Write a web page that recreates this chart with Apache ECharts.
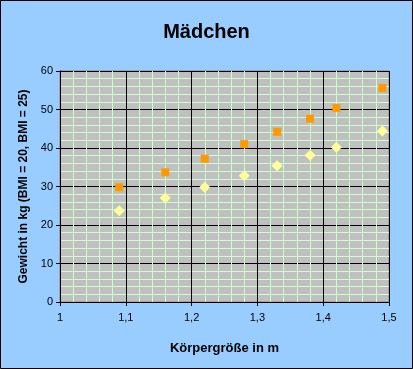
<!DOCTYPE html>
<html><head><meta charset="utf-8">
<script src="https://cdn.jsdelivr.net/npm/echarts@6/dist/echarts.min.js"></script>
<style>html,body{margin:0;padding:0;background:#99CCFF;}#c{width:413px;height:369px;}</style>
</head><body><div id="c"></div>
<script>
const heights = [1.09, 1.16, 1.22, 1.28, 1.33, 1.38, 1.42, 1.49];
const weightBMI25 = [29.8, 33.7, 37.2, 41.0, 44.2, 47.6, 50.4, 55.6];
const weightBMI20 = [23.7, 27.0, 29.8, 32.8, 35.4, 38.1, 40.2, 44.4];
const titleText = 'Mädchen';
const xName = 'Körpergröße in m';
const yName = 'Gewicht in kg (BMI = 20, BMI = 25)';

const chart = echarts.init(document.getElementById('c'), null, {renderer:'canvas'});
const fmt = v => String(+(+v).toFixed(1)).replace('.', ',');
const font = 'Arial, "Liberation Sans", sans-serif';
chart.setOption({
  backgroundColor: '#99CCFF',
  animation: false,
  title: {text: titleText, left: 'center', top: 17,
    textStyle: {fontFamily: font, fontSize: 20, fontWeight: 'bold', color: '#000'}},
  graphic: [{type:'rect', shape:{x:0.5,y:0.5,width:412,height:368}, style:{fill:'none', stroke:'#000', lineWidth:1}, z:100}],
  grid: {left: 60, right: 24, top: 71, bottom: 67, show: true, backgroundColor: '#C0C0C0', borderColor: '#808080', borderWidth: 1},
  xAxis: {type: 'value', min: 1, max: 1.5, interval: 0.1,
    name: xName, nameLocation: 'middle', nameGap: 40,
    nameTextStyle: {fontFamily: font, fontSize: 13, fontWeight: 'bold', color: '#000'},
    axisLine: {show: true, lineStyle: {color: '#000'}},
    axisTick: {show: true, length: 4, lineStyle: {color: '#000'}},
    axisLabel: {formatter: fmt, fontFamily: font, fontSize: 11, color: '#000', margin: 10},
    splitLine: {show: true, lineStyle: {color: '#000', width: 1}},
    minorTick: {show: false, splitNumber: 5},
    minorSplitLine: {show: true, lineStyle: {color: '#CCFFCC', width: 1}}},
  yAxis: {type: 'value', min: 0, max: 60, interval: 10,
    name: yName, nameLocation: 'middle', nameGap: 25, nameRotate: 90,
    nameTextStyle: {fontFamily: font, fontSize: 12, fontWeight: 'bold', color: '#000'},
    axisLine: {show: true, lineStyle: {color: '#000'}},
    axisTick: {show: true, length: 4, lineStyle: {color: '#000'}},
    axisLabel: {fontFamily: font, fontSize: 11, color: '#000', margin: 7},
    splitLine: {show: true, lineStyle: {color: '#000', width: 1}},
    minorTick: {show: false, splitNumber: 5},
    minorSplitLine: {show: true, lineStyle: {color: '#CCFFCC', width: 1}}},
  series: [
    {type: 'scatter', name: 'BMI 25', symbol: 'rect', symbolSize: 8,
     itemStyle: {color: '#FF9900', opacity: 1},
     data: heights.map((h, i) => [h, weightBMI25[i]])},
    {type: 'scatter', name: 'BMI 20', symbol: 'diamond', symbolSize: [11, 11],
     itemStyle: {color: '#FFFF99', opacity: 1},
     data: heights.map((h, i) => [h, weightBMI20[i]])}
  ]
});
</script></body></html>
